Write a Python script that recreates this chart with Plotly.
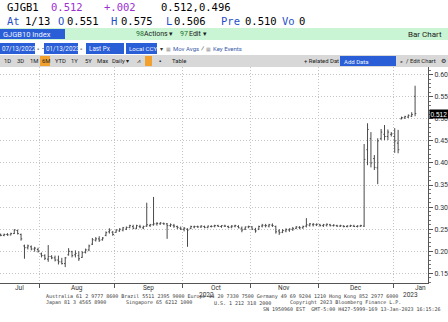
import plotly.graph_objects as go

# ---------------- data ----------------
jul_days = [13, 14, 15, 19, 20, 21, 22, 25, 26, 27, 28, 29]
aug_days = [1, 2, 3, 4, 5, 8, 9, 10, 12, 15, 16, 17, 18, 19, 22, 23, 24, 25, 26, 29, 30, 31]
sep_days = [1, 2, 5, 6, 7, 8, 9, 12, 13, 14, 15, 16, 20, 21, 22, 26, 27, 28, 29, 30]
oct_days = [3, 4, 5, 6, 7, 11, 12, 13, 14, 17, 18, 19, 20, 21, 24, 25, 26, 27, 28, 31]
nov_days = [1, 2, 4, 7, 8, 9, 10, 11, 14, 15, 16, 17, 18, 21, 22, 24, 25, 28, 29, 30]
dec_days = [1, 2, 5, 6, 7, 8, 9, 12, 13, 14, 15, 16, 19, 20, 21, 22, 23, 26, 27, 28, 29, 30]
jan_days = [4, 5, 6, 10, 11, 12, 13]

month_keys = ["2022-07", "2022-08", "2022-09", "2022-10", "2022-11", "2022-12", "2023-01"]
month_names = ["Jul", "Aug", "Sep", "Oct", "Nov", "Dec", "Jan"]
month_days = [jul_days, aug_days, sep_days, oct_days, nov_days, dec_days, jan_days]

dates = [f"{k}-{d:02d}" for k, days in zip(month_keys, month_days) for d in days]

opens = [
    .238, .236, .238, .237, .240, .247, .238, .212, .208, .210, .205, .204,
    .194, .190, .182, .188, .185, .180, .176, .172, .192, .199, .192, .190, .186, .197, .203, .216, .225, .228, .226, .236, .244, .243,
    .243, .246, .248, .250, .254, .256, .252, .256, .253, .257, .258, .260, .262, .262, .263, .262, .258, .258, .256, .252,
    .250, .250, .252, .255, .256, .255, .256, .254, .256, .257, .258, .256, .257, .256, .255, .257, .256, .252, .250, .255,
    .255, .249, .250, .257, .258, .257, .259, .256, .246, .243, .246, .248, .250, .252, .254, .253, .257, .259, .260, .260,
    .260, .258, .259, .260, .258, .258, .257, .257, .256, .257, .257, .256, .257, .257, .430, .455, .410, .389, .455, .465, .460, .465,
    .460, .445, .500, .502, .504, .506, .551,
]
highs = [
    .240, .240, .241, .242, .250, .249, .240, .215, .215, .213, .210, .208,
    .197, .193, .214, .191, .190, .190, .185, .187, .207, .201, .202, .200, .200, .206, .215, .230, .232, .234, .232, .245, .252, .246,
    .250, .252, .255, .256, .260, .260, .260, .260, .258, .310, .262, .323, .266, .266, .265, .264, .263, .262, .258, .256,
    .255, .252, .258, .258, .258, .259, .258, .258, .259, .260, .260, .259, .260, .258, .259, .260, .259, .256, .256, .258,
    .257, .253, .258, .262, .262, .262, .263, .258, .250, .250, .252, .252, .255, .257, .257, .258, .275, .264, .264, .263,
    .262, .262, .263, .262, .261, .260, .260, .259, .259, .260, .260, .259, .260, .443, .490, .470, .418, .456, .477, .486, .476, .470,
    .479, .475, .505, .507, .510, .515, .575,
]
lows = [
    .234, .234, .235, .236, .239, .238, .224, .183, .204, .202, .199, .197,
    .186, .180, .176, .182, .177, .170, .170, .164, .190, .186, .186, .178, .185, .195, .200, .214, .222, .221, .224, .234, .240, .235,
    .242, .244, .245, .248, .252, .250, .250, .252, .250, .255, .255, .258, .258, .260, .260, .228, .255, .253, .250, .248,
    .245, .210, .250, .252, .253, .253, .252, .252, .254, .254, .255, .253, .255, .252, .252, .254, .252, .243, .248, .252,
    .248, .242, .248, .254, .254, .254, .255, .240, .237, .241, .243, .244, .246, .250, .250, .251, .254, .256, .256, .257,
    .256, .255, .256, .256, .256, .255, .255, .254, .254, .255, .255, .254, .255, .255, .395, .390, .384, .352, .452, .452, .452, .460,
    .423, .422, .499, .500, .502, .504, .506,
]
closes = [
    .236, .238, .237, .240, .248, .240, .228, .208, .212, .205, .207, .200,
    .190, .184, .188, .185, .180, .176, .172, .185, .200, .190, .195, .183, .197, .203, .212, .226, .228, .225, .230, .242, .248, .238,
    .248, .250, .253, .254, .258, .252, .258, .255, .256, .260, .260, .262, .263, .264, .262, .258, .260, .257, .254, .250,
    .252, .248, .256, .256, .255, .257, .254, .257, .256, .258, .256, .258, .257, .254, .257, .258, .253, .248, .255, .256,
    .250, .246, .256, .259, .258, .260, .258, .244, .242, .247, .249, .250, .251, .255, .253, .256, .260, .262, .261, .261,
    .258, .260, .261, .258, .259, .257, .258, .256, .257, .258, .256, .257, .258, .408, .476, .400, .390, .450, .470, .460, .470, .466,
    .450, .430, .503, .505, .508, .510, .512,
]

last_price = 0.512
year_labels = ["2022", "2023"]

# ---------------- geometry helpers (pixel -> paper) ----------------
W, H = 448, 322
PL, PR, PT, PB = 0, 428, 67, 283   # plot area in pixels
PW, PH = PR - PL, PB - PT


def pxx(px):
    return (px - PL) / PW


def pxy(py):
    return (PB - py) / PH


MONO = "DejaVu Sans Mono, Liberation Mono, monospace"
NARROW = "Liberation Sans Narrow, Roboto, Liberation Sans, Arial, sans-serif"
PURPLE = "#9b30d0"
BLUE = "#1f4fc8"
BOXBLUE = "#2a5ed6"
BOXTXT = "#eef2ff"

annotations = []
shapes = []


def txt(s, px, py, size, color="#000", family=MONO, anchor="left", bg=None):
    d = dict(text=s, x=pxx(px), y=pxy(py), xref="paper", yref="paper",
             xanchor=anchor, yanchor="middle", showarrow=False, borderpad=0,
             font=dict(size=size, color=color, family=family))
    if bg:
        d["bgcolor"] = bg
    annotations.append(d)


def rect(x0, y0, x1, y1, color):
    shapes.append(dict(type="rect", xref="paper", yref="paper",
                       x0=pxx(x0), x1=pxx(x1), y0=pxy(y1), y1=pxy(y0),
                       fillcolor=color, line=dict(width=0), layer="below"))


# ---------------- x scale derived from data ----------------
n = len(dates)
xs = list(range(n))
xmin, xmax = -0.2, 125.8
idx_per_px = (xmax - xmin) / PW

month_first = []
pos = 0
for days in month_days:
    month_first.append(pos)
    pos += len(days)
boundaries = [f - 0.5 for f in month_first[1:]]

fig_right_idx = xmin + W * idx_per_px
edges = [xmin] + boundaries + [fig_right_idx]
for i, name in enumerate(month_names):
    annotations.append(dict(text=name, x=(edges[i] + edges[i + 1]) / 2, xref="x",
                            y=pxy(288), yref="paper", showarrow=False,
                            xanchor="center", yanchor="middle",
                            font=dict(size=6.5, color="#333", family=NARROW)))

# ---------------- figure ----------------
fig = go.Figure()
fig.add_trace(go.Ohlc(
    x=xs, open=opens, high=highs, low=lows, close=closes,
    increasing=dict(line=dict(color="#4a4a4a", width=1)),
    decreasing=dict(line=dict(color="#4a4a4a", width=1)),
    tickwidth=0.35, hoverinfo="skip", showlegend=False,
))

# header backgrounds
rect(0, 28, W, 40, "#c9f5d4")
rect(0, 29, 65, 39, BOXBLUE)
rect(0, 43, 35, 54, BOXBLUE)
rect(44, 43, 78, 54, BOXBLUE)
rect(86, 43, 124, 54, BOXBLUE)
rect(126, 43, 157, 54, BOXBLUE)
rect(0, 55, W, 67, "#d8d8d8")
rect(40, 56, 50, 66, "#f2a12e")
rect(145, 56, 152, 66, "#f2a12e")
rect(340, 56, 396, 66, BOXBLUE)

# row 1
txt("GJGB1", 6, 7, 10.5)
txt("0.512", 50, 7, 10.5, PURPLE)
txt("+.002", 103, 7, 10.5, PURPLE)
txt("0.512,0.496", 160, 7, 10.5)
# row 2
for s, x, c in [("At", 6, BLUE), ("1/13", 24, "#000"), ("O", 57, BLUE), ("0.551", 66, "#000"),
                ("H", 110, BLUE), ("0.575", 120, "#000"), ("L", 165, BLUE), ("0.506", 173, "#000"),
                ("Pre", 220, BLUE), ("0.510", 244, "#000"), ("Vo", 281, BLUE), ("0", 298, "#000")]:
    txt(s, x, 21, 10.5, c)
# row 3
txt("GJGB10 Index", 2, 34, 7.5, BOXTXT, NARROW)
txt("98", 135, 34, 7, "#1f6f2f", NARROW)
txt("Actions ▾", 143, 34, 7, "#1a1a1a", NARROW)
txt("97", 179, 34, 7, "#1f6f2f", NARROW)
txt("Edit ▾", 188, 34, 7, "#1a1a1a", NARROW)
txt("Bar Chart", 443, 34, 8, "#1a1a1a", NARROW, anchor="right")
# row 4
txt("07/13/2022", 0.5, 48.5, 6.3, BOXTXT, NARROW)
txt("▪", 36, 48.5, 6, "#888", NARROW)
txt("-", 40.5, 48.5, 7, "#333", NARROW)
txt("01/13/2023", 44.5, 48.5, 6.3, BOXTXT, NARROW)
txt("▪", 79, 48.5, 6, "#888", NARROW)
txt("Last Px", 88, 48.5, 6.3, BOXTXT, NARROW)
txt("Local CCY", 127.5, 48.5, 6.2, BOXTXT, NARROW)
txt("▾", 158.5, 48.5, 6, "#333", NARROW)
txt("▦", 165, 48.5, 5, "#999", NARROW)
txt("Mov Avgs", 171.5, 48.5, 6, "#3a5aa8", NARROW)
txt("⁄", 199.5, 48.5, 7, "#333", NARROW)
txt("▦", 205, 48.5, 5, "#999", NARROW)
txt("Key Events", 211.5, 48.5, 6, "#3a5aa8", NARROW)
# row 5
for s, x in [("1D", 3), ("3D", 16), ("1M", 29), ("6M", 41), ("YTD", 54), ("1Y", 70), ("5Y", 84),
             ("Max", 96), ("Daily ▾", 111), ("⩘", 136), ("▪", 158), ("Table", 171),
             ("+ Related Dat", 303), ("«", 399), ("/ Edit Chart", 405), ("⚙", 440)]:
    txt(s, x, 61, 5.9, "#222", NARROW)
txt("Add Data", 343, 61, 6, BOXTXT, NARROW)

# year labels
txt(year_labels[0], 206, 295, 6.5, "#333", NARROW, anchor="center")
txt(year_labels[1], 410, 295, 6.5, "#333", NARROW, anchor="center")

# footer
FC = "#3a3a3a"
txt("Australia 61 2 9777 8600 Brazil 5511 2395 9000 Europe 44 20 7330 7500 Germany 49 69 9204 1210 Hong Kong 852 2977 6000",
    45, 296.5, 5, FC)
txt("Japan 81 3 4565 8900", 45, 302.5, 5, FC)
txt("Singapore 65 6212 1000", 125, 302.5, 5, FC)
txt("U.S. 1 212 318 2000", 213, 302.5, 5, FC)
txt("Copyright 2023 Bloomberg Finance L.P.", 289, 302.5, 5, FC)
txt("SN 1950960 EST  GMT-5:00 H427-5999-169 13-Jan-2023 16:15:26", 262, 309, 5, FC)

# last price tag
annotations.append(dict(text=f"{last_price:.3f}", x=pxx(429), xref="paper", y=last_price, yref="y",
                        xanchor="left", yanchor="middle", showarrow=False, bgcolor="#000",
                        borderpad=0.5, font=dict(size=6.5, color="#fff", family="Liberation Sans, Arial")))

GRID = dict(showgrid=True, gridcolor="#c4c4c4", griddash="1px,2px", gridwidth=1)

fig.update_layout(
    width=W, height=H,
    margin=dict(l=PL, r=W - PR, t=PT, b=H - PB, pad=0),
    paper_bgcolor="#ffffff", plot_bgcolor="#ffffff",
    showlegend=False,
    shapes=shapes, annotations=annotations,
    xaxis=dict(
        type="linear", range=[xmin, xmax], rangeslider=dict(visible=False),
        tickmode="array", tickvals=boundaries, showticklabels=False,
        ticks="outside", ticklen=4, tickcolor="#555",
        showline=True, linecolor="#555", linewidth=1, zeroline=False, **GRID,
    ),
    yaxis=dict(
        side="right", range=[0.128, 0.6175], dtick=0.05, tick0=0.15, tickformat=".2f",
        ticks="outside", ticklen=4, tickcolor="#555",
        minor=dict(dtick=0.01, ticks="outside", ticklen=2, tickcolor="#777", showgrid=False),
        showline=True, linecolor="#555", linewidth=1, zeroline=False, **GRID,
        tickfont=dict(size=7, color="#333", family=NARROW),
    ),
)

fig.write_html("out.html")
